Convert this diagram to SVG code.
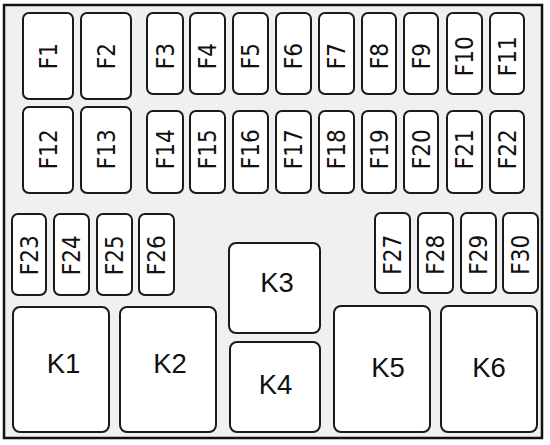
<svg xmlns="http://www.w3.org/2000/svg" width="550" height="445" viewBox="0 0 550 445">
<style>
.frame{fill:#f0f0f0;stroke:#111;stroke-width:2.5}
.box{fill:#fff;stroke:#1a1a1a;stroke-width:2}
.f{font-family:"DejaVu Sans Condensed","DejaVu Sans",sans-serif;font-stretch:condensed;font-size:24px;fill:#111;text-anchor:middle}
.k{font-family:"Liberation Sans",Arial,sans-serif;font-size:27.5px;fill:#111;text-anchor:middle}
</style>
<rect x="0" y="0" width="550" height="445" fill="#fff"/>
<rect class="frame" x="4" y="5" width="538" height="433"/>
<g id="F1"><rect class="box" x="23" y="13" width="50" height="86" rx="6"/><text class="f" x="48" y="65" transform="rotate(-90 48 56.2)">F1</text></g>
<g id="F2"><rect class="box" x="81" y="13" width="50" height="86" rx="6"/><text class="f" x="106" y="65" transform="rotate(-90 106 56.2)">F2</text></g>
<g id="F3"><rect class="box" x="147" y="13" width="36" height="81" rx="6"/><text class="f" x="165" y="65" transform="rotate(-90 165 56.2)">F3</text></g>
<g id="F4"><rect class="box" x="190" y="13" width="35" height="81" rx="6"/><text class="f" x="207.5" y="65" transform="rotate(-90 207.5 56.2)">F4</text></g>
<g id="F5"><rect class="box" x="233" y="13" width="35" height="81" rx="6"/><text class="f" x="250.5" y="65" transform="rotate(-90 250.5 56.2)">F5</text></g>
<g id="F6"><rect class="box" x="276" y="13" width="35" height="81" rx="6"/><text class="f" x="293.5" y="65" transform="rotate(-90 293.5 56.2)">F6</text></g>
<g id="F7"><rect class="box" x="319" y="13" width="35" height="81" rx="6"/><text class="f" x="336.5" y="65" transform="rotate(-90 336.5 56.2)">F7</text></g>
<g id="F8"><rect class="box" x="362" y="13" width="34" height="81" rx="6"/><text class="f" x="379" y="65" transform="rotate(-90 379 56.2)">F8</text></g>
<g id="F9"><rect class="box" x="404" y="13" width="34" height="81" rx="6"/><text class="f" x="421" y="65" transform="rotate(-90 421 56.2)">F9</text></g>
<g id="F10"><rect class="box" x="447" y="13" width="35" height="81" rx="6"/><text class="f" x="464.5" y="65" transform="rotate(-90 464.5 56.2)">F10</text></g>
<g id="F11"><rect class="box" x="490" y="13" width="34" height="81" rx="6"/><text class="f" x="507" y="65" transform="rotate(-90 507 56.2)">F11</text></g>
<g id="F12"><rect class="box" x="23" y="107" width="50" height="86" rx="6"/><text class="f" x="48" y="158" transform="rotate(-90 48 149.2)">F12</text></g>
<g id="F13"><rect class="box" x="81" y="107" width="50" height="86" rx="6"/><text class="f" x="106" y="158" transform="rotate(-90 106 149.2)">F13</text></g>
<g id="F14"><rect class="box" x="147" y="111" width="36" height="82" rx="6"/><text class="f" x="165" y="158" transform="rotate(-90 165 149.2)">F14</text></g>
<g id="F15"><rect class="box" x="190" y="111" width="35" height="82" rx="6"/><text class="f" x="207.5" y="158" transform="rotate(-90 207.5 149.2)">F15</text></g>
<g id="F16"><rect class="box" x="233" y="111" width="35" height="82" rx="6"/><text class="f" x="250.5" y="158" transform="rotate(-90 250.5 149.2)">F16</text></g>
<g id="F17"><rect class="box" x="276" y="111" width="35" height="82" rx="6"/><text class="f" x="293.5" y="158" transform="rotate(-90 293.5 149.2)">F17</text></g>
<g id="F18"><rect class="box" x="319" y="111" width="35" height="82" rx="6"/><text class="f" x="336.5" y="158" transform="rotate(-90 336.5 149.2)">F18</text></g>
<g id="F19"><rect class="box" x="362" y="111" width="34" height="82" rx="6"/><text class="f" x="379" y="158" transform="rotate(-90 379 149.2)">F19</text></g>
<g id="F20"><rect class="box" x="404" y="111" width="34" height="82" rx="6"/><text class="f" x="421" y="158" transform="rotate(-90 421 149.2)">F20</text></g>
<g id="F21"><rect class="box" x="447" y="111" width="35" height="82" rx="6"/><text class="f" x="464.5" y="158" transform="rotate(-90 464.5 149.2)">F21</text></g>
<g id="F22"><rect class="box" x="490" y="111" width="34" height="82" rx="6"/><text class="f" x="507" y="158" transform="rotate(-90 507 149.2)">F22</text></g>
<g id="F23"><rect class="box" x="12" y="214" width="34" height="81" rx="6"/><text class="f" x="29" y="264" transform="rotate(-90 29 255.2)">F23</text></g>
<g id="F24"><rect class="box" x="54" y="214" width="35" height="81" rx="6"/><text class="f" x="71.5" y="264" transform="rotate(-90 71.5 255.2)">F24</text></g>
<g id="F25"><rect class="box" x="97" y="214" width="35" height="81" rx="6"/><text class="f" x="114.5" y="264" transform="rotate(-90 114.5 255.2)">F25</text></g>
<g id="F26"><rect class="box" x="139" y="214" width="35" height="81" rx="6"/><text class="f" x="156.5" y="264" transform="rotate(-90 156.5 255.2)">F26</text></g>
<g id="F27"><rect class="box" x="375" y="213" width="35" height="80" rx="6"/><text class="f" x="392.5" y="263.6" transform="rotate(-90 392.5 254.8)">F27</text></g>
<g id="F28"><rect class="box" x="418" y="213" width="35" height="80" rx="6"/><text class="f" x="435.5" y="263.6" transform="rotate(-90 435.5 254.8)">F28</text></g>
<g id="F29"><rect class="box" x="461" y="213" width="35" height="80" rx="6"/><text class="f" x="478.5" y="263.6" transform="rotate(-90 478.5 254.8)">F29</text></g>
<g id="F30"><rect class="box" x="503" y="213" width="35" height="80" rx="6"/><text class="f" x="520.5" y="263.6" transform="rotate(-90 520.5 254.8)">F30</text></g>
<g id="K1"><rect class="box" x="13" y="307" width="96" height="125" rx="7"/><text class="k" x="63.5" y="372.5">K1</text></g>
<g id="K2"><rect class="box" x="120" y="307" width="96" height="125" rx="7"/><text class="k" x="170" y="372.5">K2</text></g>
<g id="K3"><rect class="box" x="229" y="243" width="91" height="90" rx="7"/><text class="k" x="277" y="292">K3</text></g>
<g id="K4"><rect class="box" x="230" y="342" width="90" height="90" rx="7"/><text class="k" x="275.5" y="394">K4</text></g>
<g id="K5"><rect class="box" x="334" y="306" width="96" height="126" rx="7"/><text class="k" x="388" y="377">K5</text></g>
<g id="K6"><rect class="box" x="441" y="306" width="96" height="126" rx="7"/><text class="k" x="489" y="377">K6</text></g>
<g id="connectors"></g>
</svg>
